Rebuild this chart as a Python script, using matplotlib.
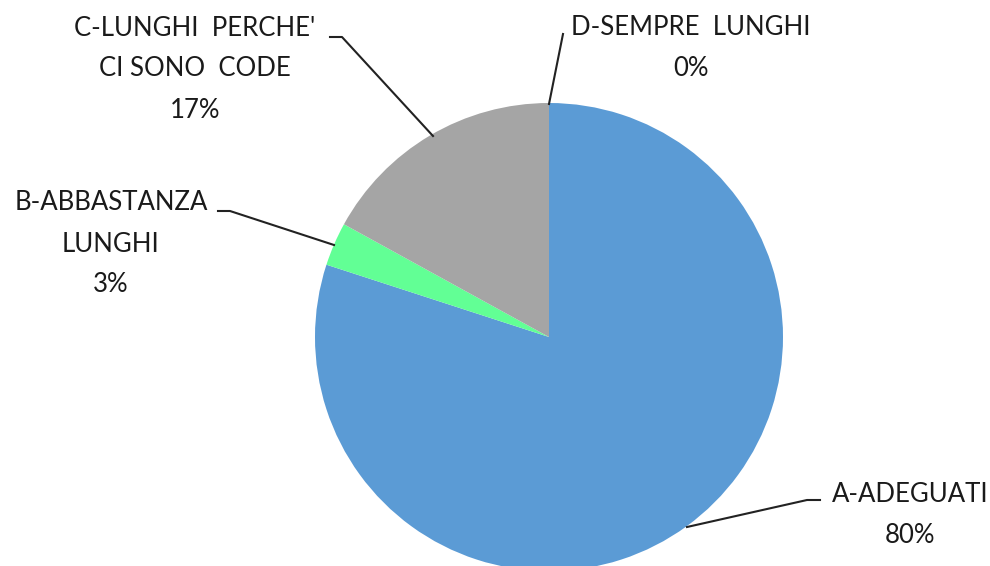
import matplotlib.pyplot as plt

# dati del grafico
categorie = ["A-ADEGUATI", "B-ABBASTANZA\nLUNGHI", "C-LUNGHI  PERCHE'\nCI SONO  CODE", "D-SEMPRE  LUNGHI"]
valori = [80, 3, 17, 0]
colori = ["#5B9BD5", "#62FF95", "#A5A5A5", "#FFC000"]

W, H = 990, 566
CX, CY, R = 549, 337, 234  # centro e raggio in pixel (y verso il basso)


def py(y):
    return H - y


fig = plt.figure(figsize=(W / 100, H / 100), dpi=100)
ax = fig.add_axes([0, 0, 1, 1])

ax.pie(valori, colors=colori, startangle=90, counterclock=False,
       center=(CX, py(CY)), radius=R, wedgeprops=dict(linewidth=0))

ax.set_xlim(0, W)
ax.set_ylim(0, H)
ax.set_aspect('equal')
ax.axis('off')

# etichette: (testo, posizione testo, linea guida)
etichette = [
    (f"{categorie[0]}\n{valori[0]}%", (910, 515), [(820, 500), (807, 500), (687, 527)]),
    (f"{categorie[1]}\n{valori[1]}%", (111, 244), [(218, 211), (230, 211), (334, 245)]),
    (f"{categorie[2]}\n{valori[2]}%", (195, 69), [(330, 37), (342, 37), (433, 136)]),
    (f"{categorie[3]}\n{valori[3]}%", (691, 48), [(563, 34), (549, 104)]),
]

for testo, (tx, ty), linea in etichette:
    ax.text(tx, py(ty), testo, ha='center', va='center', fontsize=18.5,
            family='Lato', color='#1a1a1a', linespacing=1.8)
    xs = [p[0] for p in linea]
    ys = [py(p[1]) for p in linea]
    ax.plot(xs, ys, color='#222222', lw=1.5)

fig.savefig("out.png", dpi=100)
